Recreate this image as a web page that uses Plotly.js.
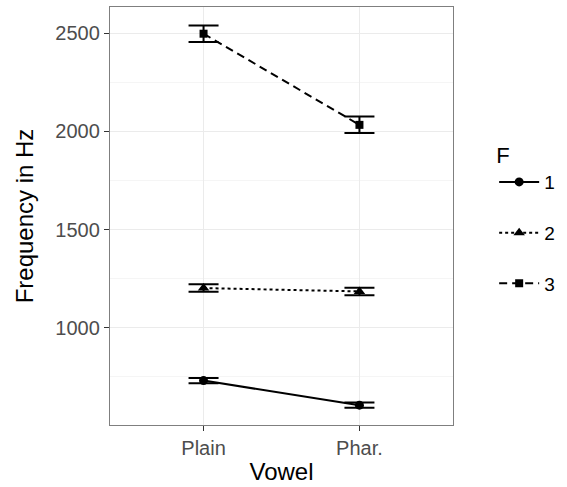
<!DOCTYPE html>
<html>
<head>
<meta charset="utf-8">
<script src="https://cdn.plot.ly/plotly-3.0.1.min.js"></script>
<style>body{margin:0;background:#fff}#chart{width:567px;height:487px}</style>
</head>
<body>
<div id="chart"></div>
<script>
const vowels = ["Plain", "Phar."];
const formants = ["1", "2", "3"];
const f1 = [731, 606];
const f2 = [1202, 1185];
const f3 = [2497, 2033];
const f1Err = [13, 13];
const f2Err = [19, 19];
const f3Err = [42, 42];
const yTicks = [1000, 1500, 2000, 2500];

const styles = [
  {dash: "solid", symbol: "circle", size: 9},
  {dash: "3px,3px", symbol: "triangle-up", size: 10},
  {dash: "8px,5px", symbol: "square", size: 8}
];
const series = [f1, f2, f3];
const errs = [f1Err, f2Err, f3Err];

const traces = series.map((vals, i) => ({
  type: "scatter",
  mode: "lines+markers",
  x: vowels,
  y: vals,
  name: formants[i],
  legendgroup: formants[i],
  line: {color: "black", width: 2, dash: styles[i].dash},
  marker: {color: "black", symbol: styles[i].symbol, size: styles[i].size},
  error_y: {type: "data", array: errs[i], visible: true, color: "black", thickness: 2, width: 15}
}));

const layout = {
  width: 567, height: 487,
  margin: {l: 110, r: 110, t: 7, b: 62},
  paper_bgcolor: "white", plot_bgcolor: "white",
  font: {family: "Liberation Sans, Arial, sans-serif", color: "#000"},
  xaxis: {
    type: "category", range: [-0.6, 1.6],
    showgrid: true, gridcolor: "#ebebeb", gridwidth: 1.2,
    ticks: "outside", ticklen: 5, tickcolor: "#333333", tickwidth: 1,
    tickfont: {size: 20, color: "#4d4d4d"},
    showline: true, linecolor: "#7f7f7f", linewidth: 1.2, mirror: true,
    zeroline: false,
    title: {text: "Vowel", font: {size: 24, color: "#000"}, standoff: 5}
  },
  yaxis: {
    range: [505, 2633],
    tickvals: yTicks,
    showgrid: true, gridcolor: "#ebebeb", gridwidth: 1.2,
    minor: {dtick: 500, tick0: 750, showgrid: true, gridcolor: "#f2f2f2", gridwidth: 0.8},
    ticks: "outside", ticklen: 5, tickcolor: "#333333", tickwidth: 1,
    tickfont: {size: 20, color: "#4d4d4d"},
    showline: true, linecolor: "#7f7f7f", linewidth: 1.2, mirror: true,
    zeroline: false,
    title: {text: "Frequency in Hz", font: {size: 24, color: "#000"}, standoff: 14}
  },
  legend: {
    x: 1.12, xanchor: "left", y: 0.695, yanchor: "top",
    title: {text: "F", font: {size: 22}},
    font: {size: 19},
    tracegroupgap: 23,
    itemwidth: 40,
    bgcolor: "rgba(0,0,0,0)"
  },
  showlegend: true
};

Plotly.newPlot("chart", traces, layout, {staticPlot: true});
</script>
</body>
</html>
